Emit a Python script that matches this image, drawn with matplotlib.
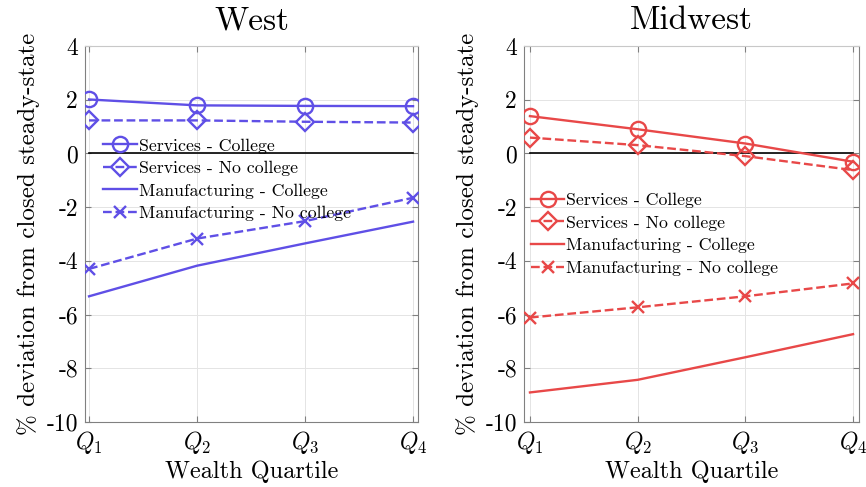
import numpy as np
import matplotlib
matplotlib.use("Agg")
import matplotlib.pyplot as plt

plt.rcParams['font.family'] = 'cmr10'
plt.rcParams['mathtext.fontset'] = 'cm'
plt.rcParams['axes.formatter.use_mathtext'] = True

# Kvartiler
quartiles = [1, 2, 3, 4]
quartile_labels = ['$Q_1$', '$Q_2$', '$Q_3$', '$Q_4$']
y_ticks = [-10, -8, -6, -4, -2, 0, 2, 4]

series_names = ['Services - College', 'Services - No college',
                'Manufacturing - College', 'Manufacturing - No college']

# West
west_serv_col = [2.01, 1.79, 1.77, 1.76]
west_serv_nocol = [1.23, 1.23, 1.18, 1.15]
west_manu_col = [-5.32, -4.18, -3.35, -2.54]
west_manu_nocol = [-4.30, -3.17, -2.52, -1.65]

# Midwest
mid_serv_col = [1.39, 0.90, 0.37, -0.31]
mid_serv_nocol = [0.59, 0.31, -0.10, -0.62]
mid_manu_col = [-8.90, -8.43, -7.59, -6.73]
mid_manu_nocol = [-6.11, -5.73, -5.32, -4.84]

blue = '#5f4fe6'
red = '#e84848'

fig = plt.figure(figsize=(8.66, 4.87), dpi=100)
ax1 = fig.add_axes([0.0982, 0.1335, 0.3845, 0.772])
ax2 = fig.add_axes([0.605, 0.1335, 0.387, 0.772])


def draw_panel(ax, title, data, color, xlim, legend_anchor):
    sc, snc, mc, mnc = data
    ax.plot([1, 4], [0, 0], color='black', lw=1.2, zorder=2)
    ax.plot(quartiles, sc, '-o', color=color, lw=1.7, ms=11,
            mfc='none', mew=1.7, label=series_names[0], zorder=3)
    ax.plot(quartiles, snc, '--D', color=color, lw=1.7, ms=9,
            mfc='none', mew=1.7, label=series_names[1], zorder=3)
    ax.plot(quartiles, mc, '-', color=color, lw=1.7,
            label=series_names[2], zorder=3)
    ax.plot(quartiles, mnc, '--x', color=color, lw=1.7, ms=8,
            mew=1.7, label=series_names[3], zorder=3)

    ax.set_xlim(*xlim)
    ax.set_ylim(-10, 4)
    ax.set_xticks(quartiles)
    ax.set_xticklabels(quartile_labels, fontsize=17)
    ax.set_yticks(y_ticks)
    ax.set_yticklabels([str(v) for v in y_ticks], fontsize=17)
    ax.grid(True, color='#e4e4e4', lw=0.7)
    ax.set_axisbelow(True)
    ax.tick_params(direction='in', length=4, color='#808080',
                   right=True, top=True, pad=5)
    for s in ['left', 'bottom', 'right']:
        ax.spines[s].set_color('#808080')
    ax.spines['top'].set_color('#c8c8c8')

    ax.set_title(title, fontsize=24, pad=12)
    ax.set_xlabel('Wealth Quartile', fontsize=17.5, labelpad=3)
    ax.set_ylabel('% deviation from closed steady-state', fontsize=18,
                  labelpad=5)
    ax.legend(loc='upper left', bbox_to_anchor=legend_anchor, frameon=False,
              fontsize=12.8, handlelength=1.9, handletextpad=0.1,
              labelspacing=0.4, borderaxespad=0, borderpad=0)


draw_panel(ax1, 'West',
           [west_serv_col, west_serv_nocol, west_manu_col, west_manu_nocol],
           blue, (0.963, 4.046), (0.055, 0.755))
draw_panel(ax2, 'Midwest',
           [mid_serv_col, mid_serv_nocol, mid_manu_col, mid_manu_nocol],
           red, (0.944, 4.056), (0.02, 0.61))

fig.savefig('out.png', dpi=100)
